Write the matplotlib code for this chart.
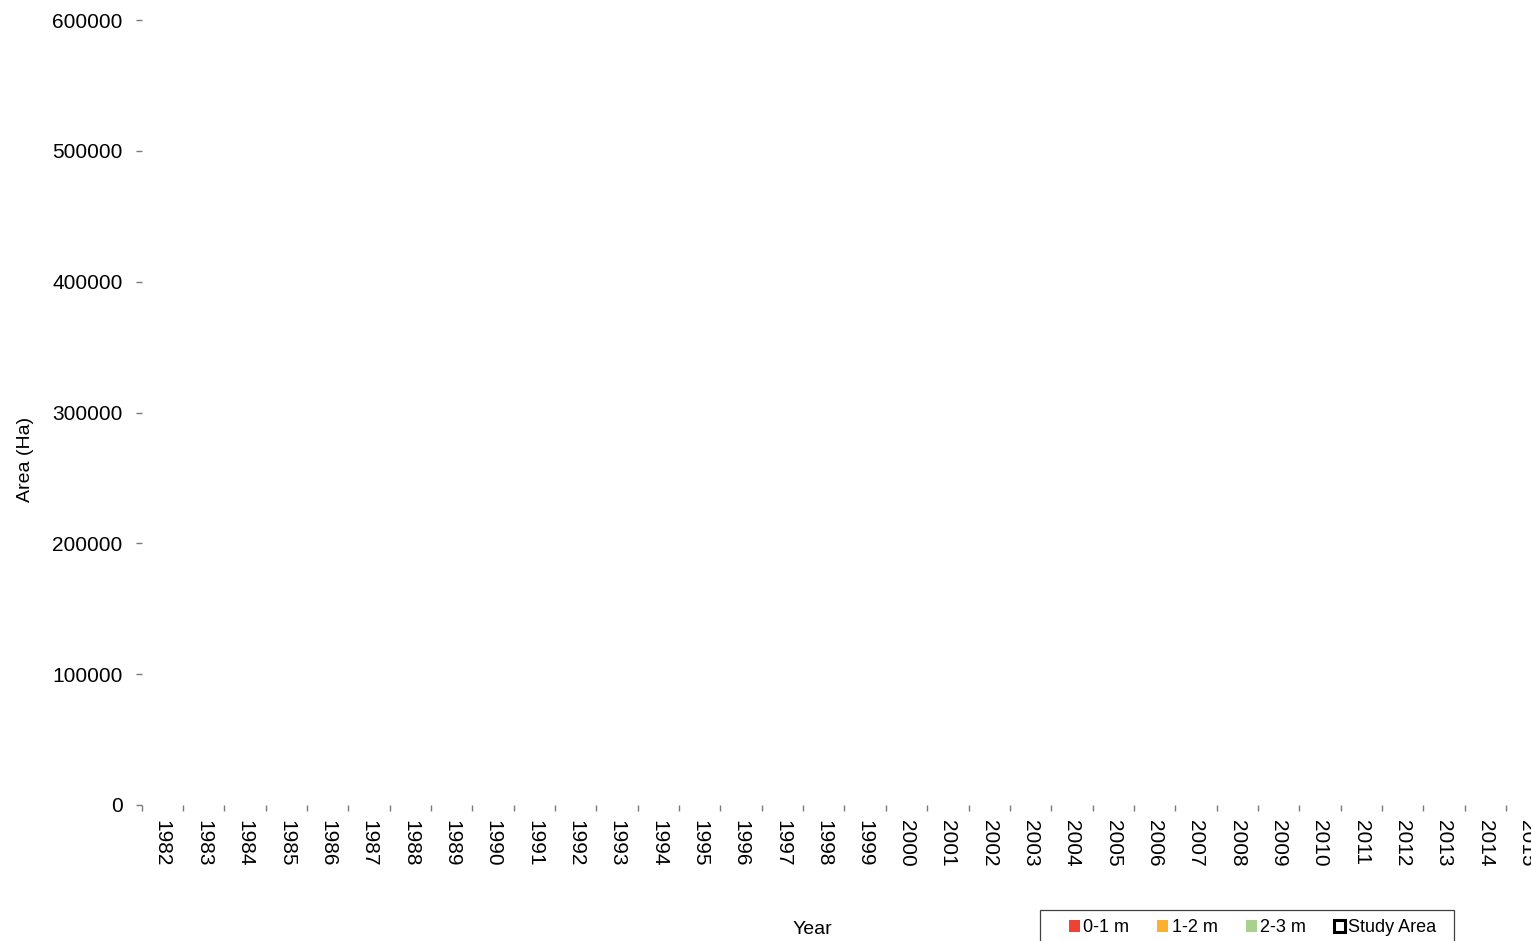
import matplotlib
matplotlib.use("Agg")
import matplotlib.pyplot as plt
from matplotlib.patches import Patch, Rectangle
import numpy as np

plt.rcParams['font.family'] = ['Liberation Sans', 'DejaVu Sans']

years = [str(y) for y in range(1982, 2016)]
# Values as shown in the reference (no visible bars: all zero)
depth_0_1 = [0, 0, 0, 0, 0, 0, 0, 0, 0, 0, 0, 0, 0, 0, 0, 0, 0,
             0, 0, 0, 0, 0, 0, 0, 0, 0, 0, 0, 0, 0, 0, 0, 0, 0]
depth_1_2 = [0, 0, 0, 0, 0, 0, 0, 0, 0, 0, 0, 0, 0, 0, 0, 0, 0,
             0, 0, 0, 0, 0, 0, 0, 0, 0, 0, 0, 0, 0, 0, 0, 0, 0]
depth_2_3 = [0, 0, 0, 0, 0, 0, 0, 0, 0, 0, 0, 0, 0, 0, 0, 0, 0,
             0, 0, 0, 0, 0, 0, 0, 0, 0, 0, 0, 0, 0, 0, 0, 0, 0]
study_area = [0, 0, 0, 0, 0, 0, 0, 0, 0, 0, 0, 0, 0, 0, 0, 0, 0,
              0, 0, 0, 0, 0, 0, 0, 0, 0, 0, 0, 0, 0, 0, 0, 0, 0]
series_labels = ['0-1 m', '1-2 m', '2-3 m', 'Study Area']
y_ticks = [0, 100000, 200000, 300000, 400000, 500000, 600000]

colors = ['#EE4234', '#FBB12F', '#A8D18D', '#FFFFFF']

W, H = 1531, 941
fig = plt.figure(figsize=(W / 100, H / 100), dpi=100)
left_px, right_px = 141.7, 141.7 + 34 * 41.34
bottom_px, top_px = 805, 20
ax = fig.add_axes([left_px / W, 1 - bottom_px / H,
                   (right_px - left_px) / W, (bottom_px - top_px) / H])

x = np.arange(len(years))
b1 = np.array(depth_0_1)
b2 = np.array(depth_1_2)
ax.bar(x, study_area, width=0.6, color=colors[3], linewidth=0)
ax.bar(x, depth_0_1, width=0.6, color=colors[0], linewidth=0)
ax.bar(x, depth_1_2, width=0.6, bottom=b1, color=colors[1], linewidth=0)
ax.bar(x, depth_2_3, width=0.6, bottom=b1 + b2, color=colors[2], linewidth=0)

ax.set_xlim(-0.5, len(years) - 0.5)
ax.set_ylim(0, 600000)
for s in ax.spines.values():
    s.set_visible(False)

ax.set_yticks(y_ticks)
ax.set_yticklabels([str(v) for v in y_ticks], fontsize=15)
ax.tick_params(axis='y', length=4.3, width=1.0, color='#7a7a7a', pad=9.4)

ax.set_xticks(x)
ax.set_xticklabels(years, rotation=-90, fontsize=15)
ax.set_xticks(np.arange(-0.5, len(years)), minor=True)
ax.tick_params(axis='x', which='major', length=0, pad=11)
ax.tick_params(axis='x', which='minor', length=4.3, width=1.0, color='#7a7a7a')

fig.text(25 / W, 1 - 459 / H, 'Area (Ha)', rotation=90, ha='center', va='center', fontsize=14)
fig.text(812 / W, 1 - 930 / H, 'Year', ha='center', va='center', fontsize=14)

handles = [Patch(facecolor=colors[0], edgecolor='none'),
           Patch(facecolor=colors[1], edgecolor='none'),
           Patch(facecolor=colors[2], edgecolor='none'),
           Patch(facecolor='white', edgecolor='black', linewidth=2.2)]
leg = fig.legend(handles, series_labels, loc='center left',
                 bbox_to_anchor=(1069 / W, 1 - 928 / H), ncol=4, frameon=False,
                 fontsize=13, handlelength=0.6, handleheight=0.6,
                 handletextpad=0.2, columnspacing=1.55, borderpad=0, borderaxespad=0)
fig.patches.append(Rectangle((1040 / W, -0.01), (1454 - 1040) / W, (941 - 910) / H + 0.01,
                             transform=fig.transFigure, facecolor='none',
                             edgecolor='#404040', linewidth=0.9))

fig.savefig('out.png', dpi=100)
